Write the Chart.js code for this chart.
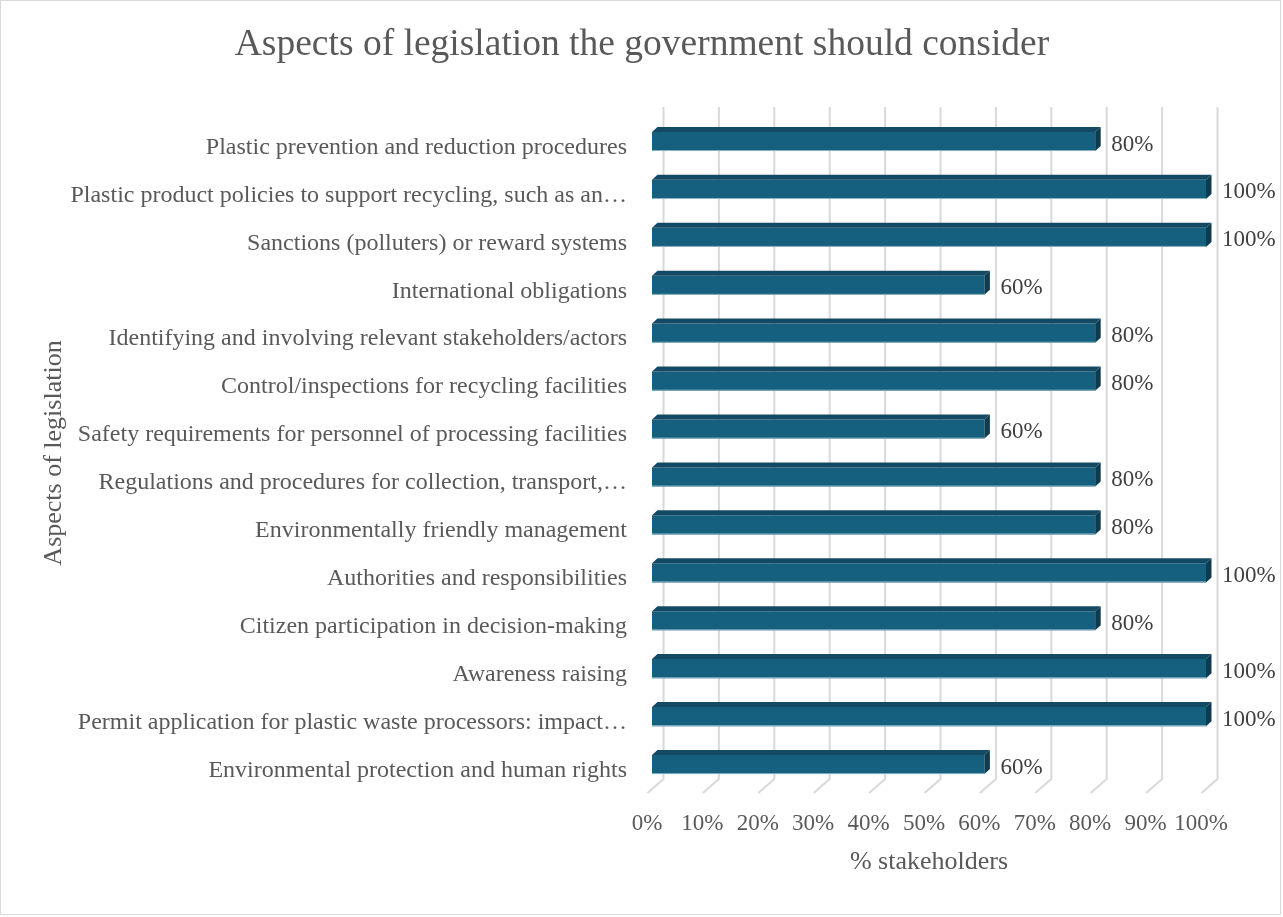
<!DOCTYPE html>
<html>
<head>
<meta charset="utf-8">
<script src="https://cdn.jsdelivr.net/npm/chart.js@4.4.1/dist/chart.umd.min.js"></script>
<style>
  html, body { margin: 0; padding: 0; background: #ffffff; }
  canvas { display: block; }
</style>
</head>
<body>
<canvas id="c" width="1283" height="917"></canvas>
<script>
const chartTitle = 'Aspects of legislation the government should consider';
const categories = [
  'Plastic prevention and reduction procedures',
  'Plastic product policies to support recycling, such as an\u2026',
  'Sanctions (polluters) or reward systems',
  'International obligations',
  'Identifying and involving relevant stakeholders/actors',
  'Control/inspections for recycling facilities',
  'Safety requirements for personnel of processing facilities',
  'Regulations and procedures for collection, transport,\u2026',
  'Environmentally friendly management',
  'Authorities and responsibilities',
  'Citizen participation in decision-making',
  'Awareness raising',
  'Permit application for plastic waste processors: impact\u2026',
  'Environmental protection and human rights'
];
const stakeholderPct = [80, 100, 100, 60, 80, 80, 60, 80, 80, 100, 80, 100, 100, 60];
const xTickValues = [0, 10, 20, 30, 40, 50, 60, 70, 80, 90, 100];
const xAxisTitle = '% stakeholders';
const yAxisTitle = 'Aspects of legislation';

const FONT = "'Liberation Serif', 'Times New Roman', serif";
const TEXT = '#595959';
const DEPTH_X = 5.5, DEPTH_Y = 5;

const threeD = {
  id: 'threeD',
  beforeDatasetsDraw(chart) {
    const ctx = chart.ctx, xs = chart.scales.x, ca = chart.chartArea;
    ctx.save();
    ctx.strokeStyle = '#d9d9d9';
    ctx.lineWidth = 2;
    xTickValues.forEach(v => {
      const px = xs.getPixelForValue(v);
      const bx = px + 11.5;
      ctx.beginPath();
      ctx.moveTo(bx, ca.top - 10.5);
      ctx.lineTo(bx, ca.bottom - 9.5);
      ctx.lineTo(bx - 16, ca.bottom + 4.5);
      ctx.stroke();
    });
    ctx.restore();
  },
  afterDatasetsDraw(chart) {
    const ctx = chart.ctx;
    const meta = chart.getDatasetMeta(0);
    ctx.save();
    meta.data.forEach((bar, i) => {
      const p = bar.getProps(['x', 'y', 'base', 'height'], true);
      const top = p.y - p.height / 2, bottom = p.y + p.height / 2;
      ctx.fillStyle = '#134a63';
      ctx.beginPath();
      ctx.moveTo(p.base, top);
      ctx.lineTo(p.base + DEPTH_X, top - DEPTH_Y);
      ctx.lineTo(p.x + DEPTH_X, top - DEPTH_Y);
      ctx.lineTo(p.x, top);
      ctx.closePath();
      ctx.fill();
      ctx.fillStyle = '#0e3b4f';
      ctx.beginPath();
      ctx.moveTo(p.x, top);
      ctx.lineTo(p.x + DEPTH_X, top - DEPTH_Y);
      ctx.lineTo(p.x + DEPTH_X, bottom - DEPTH_Y);
      ctx.lineTo(p.x, bottom);
      ctx.closePath();
      ctx.fill();
      ctx.strokeStyle = '#8fb3c6';
      ctx.lineWidth = 1;
      ctx.beginPath();
      ctx.moveTo(p.base, bottom - 0.5);
      ctx.lineTo(p.x, bottom - 0.5);
      ctx.stroke();
      ctx.fillStyle = '#404040';
      ctx.font = '23px ' + FONT;
      ctx.textAlign = 'left';
      ctx.textBaseline = 'middle';
      ctx.fillText(stakeholderPct[i] + '%', p.x + 16, p.y + 3);
    });
    ctx.restore();
  },
  afterDraw(chart) {
    const ctx = chart.ctx;
    ctx.save();
    ctx.fillStyle = TEXT;
    ctx.font = '37.5px ' + FONT;
    ctx.textAlign = 'center';
    ctx.textBaseline = 'alphabetic';
    ctx.fillText(chartTitle, 642, 55);
    ctx.strokeStyle = '#d9d9d9';
    ctx.lineWidth = 1;
    ctx.strokeRect(0.5, 0.5, 1280, 914);
    ctx.restore();
  }
};

new Chart(document.getElementById('c'), {
  type: 'bar',
  data: {
    labels: categories,
    datasets: [{
      data: stakeholderPct,
      backgroundColor: '#16607f',
      borderWidth: 0,
      barPercentage: 0.4,
      categoryPercentage: 1.0
    }]
  },
  options: {
    indexAxis: 'y',
    responsive: false,
    animation: false,
    layout: { padding: { left: 0, right: 77, top: 117.5, bottom: 0 } },
    plugins: {
      legend: { display: false },
      tooltip: { enabled: false },
      title: { display: false }
    },
    scales: {
      x: {
        min: 0, max: 100,
        grid: { display: false, drawTicks: false },
        border: { display: false },
        ticks: {
          stepSize: 10,
          color: TEXT,
          font: { family: FONT, size: 23 },
          padding: 22,
          labelOffset: -5,
          maxRotation: 0,
          autoSkip: false,
          callback: v => v + '%'
        },
        title: {
          display: true,
          text: xAxisTitle,
          color: TEXT,
          font: { family: FONT, size: 26 },
          padding: { top: 0, bottom: 39 }
        },
        afterFit(scale) { scale.height = 128.5; }
      },
      y: {
        grid: { display: false, drawTicks: false },
        border: { display: false },
        ticks: {
          color: TEXT,
          font: { family: FONT, size: 24 },
          padding: 25,
          labelOffset: 6,
          autoSkip: false
        },
        title: {
          display: true,
          text: yAxisTitle,
          color: TEXT,
          font: { family: FONT, size: 26 },
          padding: { top: 39, bottom: 0 }
        },
        afterFit(scale) { scale.width = 652; }
      }
    }
  },
  plugins: [threeD]
});
</script>
</body>
</html>
